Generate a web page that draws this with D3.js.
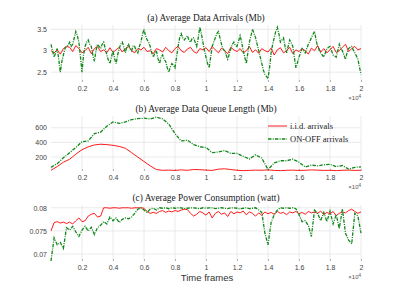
<!DOCTYPE html>
<html>
<head>
<meta charset="utf-8">
<script src="https://d3js.org/d3.v7.min.js"></script>
<style>
  body { margin: 0; background: #fff; }
  .title { font-family: "Liberation Serif", serif; font-size: 9.4px; fill: #222; }
  .tick text { font-family: "Liberation Sans", sans-serif; font-size: 7px; fill: #444; }
  .legend { font-family: "Liberation Serif", serif; font-size: 8.5px; fill: #222; }
</style>
</head>
<body>
<div class="chart"></div>
<script>
// Define SVG area dimensions
var svgWidth = 399;
var svgHeight = 299;

// x tick values (x10^4 time frames)
var xTicks = [0.2, 0.4, 0.6, 0.8, 1, 1.2, 1.4, 1.6, 1.8, 2];

// (a) average data arrivals, i.i.d. sampled every 0.02 x10^4
var arrivalsIid = [3.0, 2.95, 3.02, 2.92, 3.05, 3.1, 3.08, 2.98, 3.12, 3.05, 2.95, 3.0, 3.08, 2.93, 3.05, 3.1, 2.98, 3.02, 2.95, 3.07,
  2.96, 3.02, 3.08, 2.97, 3.05, 3.1, 3.0, 2.95, 3.05, 3.02, 3.08, 2.98, 3.0, 2.93, 3.05, 3.02, 2.97, 3.08, 3.0, 2.95,
  3.05, 3.1, 3.0, 2.96, 3.04, 3.08, 2.98, 2.94, 3.05, 3.02, 3.07, 2.98, 3.1, 3.02, 2.95, 3.06, 3.0, 2.93, 3.08, 3.02,
  2.98, 3.05, 2.95, 3.0, 3.1, 2.96, 3.02, 2.94, 3.05, 3.0, 2.97, 3.06, 2.9, 3.02, 3.07, 2.95, 3.0, 3.08, 2.93, 3.02,
  2.98, 3.05, 3.0, 2.92, 3.06, 3.0, 3.12, 2.97, 3.05, 2.95, 3.02, 3.1, 2.96, 3.0, 3.08, 3.15, 2.98, 3.05, 3.1, 3.02, 3.05];
// ON-OFF sampled every 0.01 x10^4
var arrivalsOnOff = [3.15, 3.0, 2.85, 2.95, 3.05, 2.8, 2.5, 2.75, 2.9, 3.05, 3.1, 3.12, 3.2, 3.1, 3.15, 3.3, 3.45, 3.35, 3.2, 2.85,
  2.5, 2.9, 3.1, 3.2, 3.25, 3.15, 3.1, 2.9, 2.75, 3.0, 3.15, 3.1, 3.05, 3.15, 3.2, 3.05, 2.9, 2.78, 2.7, 2.85,
  3.0, 2.82, 2.7, 2.9, 3.05, 3.15, 3.2, 3.08, 2.95, 3.1, 3.15, 3.05, 3.0, 3.12, 3.1, 3.0, 2.95, 3.1, 3.2, 3.38,
  3.5, 3.35, 3.25, 3.2, 3.1, 2.95, 2.85, 2.95, 3.0, 2.82, 2.7, 2.85, 2.9, 2.8, 2.75, 2.6, 2.5, 2.62, 2.7, 2.66,
  2.6, 2.85, 3.1, 3.3, 3.4, 3.3, 3.25, 3.3, 3.35, 3.25, 3.2, 3.28, 3.3, 3.2, 3.1, 3.3, 3.55, 3.4, 3.2, 3.0,
  2.85, 2.7, 2.6, 2.85, 3.1, 3.2, 3.3, 3.4, 3.45, 3.3, 3.15, 3.05, 3.0, 2.9, 2.8, 2.92, 3.05, 3.15, 3.2, 3.12,
  3.1, 3.22, 3.35, 3.2, 3.0, 2.85, 2.7, 2.95, 3.2, 3.35, 3.5, 3.4, 3.3, 3.15, 3.0, 2.85, 2.7, 2.55, 2.45, 2.4,
  2.35, 2.6, 2.95, 3.15, 3.3, 3.45, 3.55, 3.4, 3.2, 3.25, 3.3, 3.1, 2.95, 3.1, 3.25, 3.18, 3.1, 2.85, 2.6, 2.72,
  2.85, 2.95, 3.05, 3.0, 2.95, 3.05, 3.15, 3.22, 3.3, 3.38, 3.45, 3.25, 3.1, 3.02, 2.95, 2.9, 2.85, 2.95, 3.05, 3.08,
  3.1, 3.0, 2.9, 2.88, 2.85, 3.0, 3.15, 3.05, 3.0, 2.9, 2.8, 2.95, 3.05, 3.08, 3.1, 3.02, 2.95, 2.88, 2.8, 2.62, 2.45];

// (b) average queue length, sampled every 0.04 x10^4
var queueIid = [20, 70, 130, 170, 240, 300, 340, 365, 375, 370, 360, 345, 320, 260, 200, 140, 80, 30, 20,
  22, 18, 25, 20, 30, 28, 22, 18, 35, 40, 30, 20, 15, 18, 22, 20, 25, 18, 15, 20, 22, 18, 20, 25, 22, 18, 20, 15, 20, 22, 18, 20];
var queueOnOff = [60, 110, 190, 260, 330, 410, 420, 520, 540, 620, 680, 660, 680, 710, 725, 730, 720, 745, 720, 650,
  520, 420, 430, 370, 340, 330, 260, 270, 290, 250, 250, 210, 175, 230, 185, 30, 120, 150, 150, 170,
  130, 65, 90, 80, 95, 100, 70, 85, 35, 60, 65];

// (c) average power consumption, sampled every 0.02 x10^4
var powerIid = [0.075, 0.0768, 0.077, 0.0767, 0.0769, 0.0766, 0.0769, 0.0765, 0.0772, 0.0778, 0.077, 0.0772, 0.0782, 0.0786, 0.0788, 0.078, 0.0782,
  0.08, 0.08, 0.0799, 0.08, 0.08, 0.0799, 0.08, 0.08, 0.08, 0.0799, 0.08, 0.08, 0.08,
  0.0799, 0.0792, 0.0788, 0.079, 0.0788, 0.0792, 0.0794, 0.079, 0.0793, 0.0791, 0.0794, 0.0792, 0.0795, 0.0797, 0.0796, 0.0788, 0.0782, 0.0786, 0.0792, 0.0789,
  0.0784, 0.0791, 0.0778, 0.0788, 0.0792, 0.0786, 0.0789, 0.0781, 0.0792, 0.0787, 0.0791, 0.0789, 0.0793, 0.0785, 0.0791, 0.0788, 0.0782, 0.0789, 0.0784, 0.0791,
  0.0787, 0.079, 0.0786, 0.0792, 0.0788, 0.079, 0.0785, 0.0791, 0.0789, 0.0792, 0.0787, 0.079, 0.0786, 0.0792, 0.0789, 0.0791, 0.0788, 0.0793, 0.0785, 0.079,
  0.0787, 0.0792, 0.0783, 0.0788, 0.0791, 0.0789, 0.0794, 0.0797, 0.0792, 0.0788, 0.0791];
var powerOnOff = [0.0685, 0.0735, 0.072, 0.0725, 0.0712, 0.0757, 0.0752, 0.076, 0.0748, 0.0738, 0.0752, 0.076, 0.075, 0.0758, 0.0742, 0.0757, 0.0762, 0.077, 0.0765, 0.078,
  0.0772, 0.0778, 0.0768, 0.0775, 0.0778, 0.0776, 0.078, 0.0788, 0.0797, 0.08, 0.0795, 0.079, 0.0797, 0.0799, 0.0795, 0.08,
  0.0799, 0.08, 0.0798, 0.08, 0.0799, 0.08, 0.08, 0.0798, 0.0799, 0.08, 0.08, 0.0799, 0.0798, 0.08, 0.0799, 0.08, 0.08, 0.0798, 0.0799, 0.08,
  0.0799, 0.0798, 0.08, 0.08, 0.0799, 0.0797, 0.0799, 0.08, 0.0798, 0.0799, 0.08, 0.0795, 0.079, 0.0745, 0.072, 0.0768, 0.0785, 0.0795,
  0.08, 0.0799, 0.08, 0.0799, 0.08, 0.0798, 0.0785, 0.077, 0.0772, 0.0762, 0.0738, 0.0795, 0.0788, 0.0772, 0.079, 0.077,
  0.0793, 0.0765, 0.0785, 0.0755, 0.0797, 0.0745, 0.073, 0.0722, 0.0788, 0.0782, 0.0745];

// Legend labels
var legendLabels = ["i.i.d. arrivals", "ON-OFF arrivals"];

var red = "#ff1a1a";
var green = "#11881a";
var greenDash = "3.5,1.2,1,1.2";

// Panel layout (shared left/right)
var plotLeft = 51;
var plotRight = 361;

var panels = [
  { title: "(a) Average Data Arrivals (Mb)", top: 25, bottom: 82, domain: [2.27, 3.6], yTicks: [2.5, 3, 3.5],
    fmt: d3.format(".1~f"), iidStep: 0.02, onoffStep: 0.01, iid: arrivalsIid, onoff: arrivalsOnOff },
  { title: "(b) Average Data Queue Length (Mb)", top: 116, bottom: 171, domain: [10, 760], yTicks: [200, 400, 600],
    fmt: d3.format("d"), iidStep: 0.04, onoffStep: 0.04, iid: queueIid, onoff: queueOnOff },
  { title: "(c) Average Power Consumption (watt)", top: 205, bottom: 261, domain: [0.0685, 0.0806], yTicks: [0.07, 0.075, 0.08],
    fmt: function(d) { return String(+d.toFixed(3)); }, iidStep: 0.02, onoffStep: 0.02, iid: powerIid, onoff: powerOnOff }
];

var svg = d3.select(".chart")
  .append("svg")
  .attr("width", svgWidth)
  .attr("height", svgHeight);

var xScale = d3.scaleLinear().domain([0, 2]).range([plotLeft, plotRight]);

panels.forEach(function(p) {
  var yScale = d3.scaleLinear().domain(p.domain).range([p.bottom, p.top]);
  var g = svg.append("g");

  // grid lines
  g.append("g")
    .selectAll("line")
    .data(xTicks)
    .enter()
    .append("line")
    .attr("x1", function(d) { return xScale(d); })
    .attr("x2", function(d) { return xScale(d); })
    .attr("y1", p.top)
    .attr("y2", p.bottom)
    .attr("stroke", "#e4e4e4")
    .attr("stroke-width", 0.8);

  g.append("g")
    .selectAll("line")
    .data(p.yTicks)
    .enter()
    .append("line")
    .attr("x1", plotLeft)
    .attr("x2", plotRight)
    .attr("y1", function(d) { return yScale(d); })
    .attr("y2", function(d) { return yScale(d); })
    .attr("stroke", "#e4e4e4")
    .attr("stroke-width", 0.8);

  // axes (no domain line, ticks inside)
  var bottomAxis = d3.axisBottom(xScale).tickValues(xTicks).tickSize(-2).tickPadding(4)
    .tickFormat(d3.format("~g"));
  var leftAxis = d3.axisLeft(yScale).tickValues(p.yTicks).tickSize(0).tickPadding(4).tickFormat(p.fmt);

  g.append("g")
    .attr("transform", "translate(0," + p.bottom + ")")
    .call(bottomAxis)
    .call(function(s) { s.select(".domain").remove(); })
    .call(function(s) { s.selectAll(".tick line").attr("stroke", "#888").attr("stroke-width", 0.6); });

  g.append("g")
    .attr("transform", "translate(" + plotLeft + ",0)")
    .call(leftAxis)
    .call(function(s) { s.select(".domain").remove(); });

  // x10^4 exponent label
  var expo = g.append("text")
    .attr("x", plotRight)
    .attr("y", p.bottom + 18)
    .attr("text-anchor", "end")
    .style("font-family", "Liberation Sans, sans-serif")
    .style("font-size", "6px")
    .style("fill", "#555");
  expo.append("tspan").text("\u00d710");
  expo.append("tspan").attr("dy", -2.5).style("font-size", "4.5px").text("4");

  // title
  g.append("text")
    .attr("class", "title")
    .attr("x", 206)
    .attr("y", p.top - 4)
    .attr("text-anchor", "middle")
    .text(p.title);

  var iidLine = d3.line()
    .x(function(d, i) { return xScale(i * p.iidStep); })
    .y(function(d) { return yScale(d); });
  var onoffLine = d3.line()
    .x(function(d, i) { return xScale(i * p.onoffStep); })
    .y(function(d) { return yScale(d); });

  g.append("path")
    .datum(p.iid)
    .attr("d", iidLine)
    .attr("fill", "none")
    .attr("stroke", red)
    .attr("stroke-width", 1);

  g.append("path")
    .datum(p.onoff)
    .attr("d", onoffLine)
    .attr("fill", "none")
    .attr("stroke", green)
    .attr("stroke-width", 1.3)
    .attr("stroke-dasharray", greenDash);
});

// legend in panel (b)
var legend = svg.append("g");
legend.selectAll("line")
  .data(legendLabels)
  .enter()
  .append("line")
  .attr("x1", 268)
  .attr("x2", 287)
  .attr("y1", function(d, i) { return 126 + i * 13; })
  .attr("y2", function(d, i) { return 126 + i * 13; })
  .attr("stroke", function(d, i) { return i === 0 ? red : green; })
  .attr("stroke-width", function(d, i) { return i === 0 ? 1 : 1.3; })
  .attr("stroke-dasharray", function(d, i) { return i === 0 ? null : greenDash; });

legend.selectAll("text")
  .data(legendLabels)
  .enter()
  .append("text")
  .attr("class", "legend")
  .attr("x", 290)
  .attr("y", function(d, i) { return 129 + i * 13; })
  .text(function(d) { return d; });

// x-axis label
svg.append("text")
  .attr("x", 207)
  .attr("y", 281)
  .attr("text-anchor", "middle")
  .style("font-family", "Liberation Sans, sans-serif")
  .style("font-size", "9.5px")
  .style("fill", "#333")
  .text("Time frames");
</script>
</body>
</html>
